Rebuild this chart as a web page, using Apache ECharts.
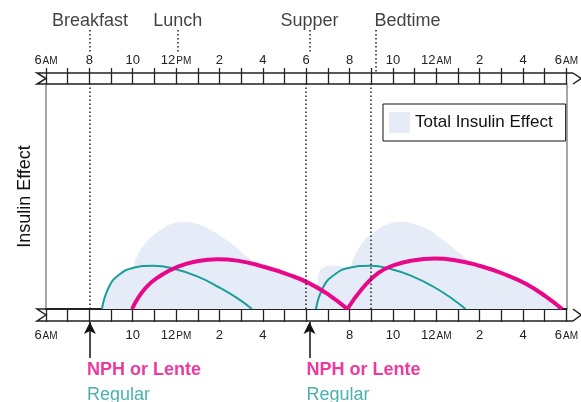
<!DOCTYPE html>
<html>
<head>
<meta charset="utf-8">
<script src="https://cdn.jsdelivr.net/npm/echarts@6/dist/echarts.min.js"></script>
<style>html,body{margin:0;padding:0;background:#fff}#chart{width:581px;height:402px}</style>
</head>
<body>
<div id="chart"></div>
<script>
// x values are hours after 6AM (0..24), y values are relative insulin effect
const topTickLabels = ['6AM', '8', '10', '12PM', '2', '4', '6', '8', '10', '12AM', '2', '4', '6AM'];
const bottomTickLabels = ['6AM', '', '10', '12PM', '2', '4', '', '8', '10', '12AM', '2', '4', '6AM'];
const mealNames = ['Breakfast', 'Lunch', 'Supper', 'Bedtime'];
const mealHours = [2, 6, 12, 15];
const dottedHours = [2, 12, 15];
const injectionHours = [2, 12];

const regularMorning = [[2.58, 0], [2.91, 10], [3.36, 15.1], [3.97, 18.1], [4.95, 19.2], [5.94, 17.8], [7.0, 14.4], [7.91, 10.0], [8.82, 4.8], [9.5, 0]];
const regularEvening = [[12.45, 0], [12.8, 10], [13.3, 15.2], [13.95, 18.2], [14.95, 19.2], [15.9, 17.8], [16.95, 14.3], [17.85, 10.0], [18.7, 4.8], [19.35, 0]];
const nphMorning = [[3.97, 0], [4.58, 9.2], [5.33, 15.1], [6.09, 18.8], [6.85, 21.0], [7.91, 22.1], [8.82, 21.5], [10.03, 18.8], [11.24, 15.1], [12.15, 11.4], [13.06, 6.2], [13.9, 0]];
const nphEvening = [[13.9, 0], [14.58, 9.0], [15.33, 16.1], [16.09, 19.6], [16.85, 21.5], [17.91, 22.4], [18.8, 21.8], [20.03, 19.1], [21.24, 15.1], [22.15, 11.1], [23.06, 5.5], [23.8, 0]];
const totalEffect = [[2.58, 0], [2.91, 10], [3.36, 15.1], [3.97, 18.3], [4.12, 21.8], [4.58, 29.2], [5.18, 34.4], [5.79, 37.8], [6.39, 38.7], [7.0, 37.8], [7.6, 35.1], [8.21, 31.4], [8.82, 27.0], [9.27, 23.2], [10.03, 18.8], [11.24, 15.1], [12.15, 11.4], [12.45, 9.8], [12.6, 16.6], [12.76, 18.1], [13.06, 19.2], [13.5, 19.2], [13.8, 18.1], [14.0, 18.0], [14.12, 21], [14.58, 29.2], [15.18, 34.4], [15.79, 37.8], [16.39, 38.7], [17.0, 37.8], [17.6, 35.4], [18.2, 31.4], [18.8, 27], [19.3, 23], [20.03, 19.1], [21.24, 15.1], [22.15, 11.1], [23.06, 5.5], [23.8, 0], [24, 0]];

const PINK = '#e8088a';
const TEAL = '#1b9e9a';
const FILL = '#e6ecf7';
const INK = '#222';

// plot box
const X0 = 46, X1 = 573, Y0 = 84, Y1 = 309;

function tickFormatter(labels) {
  return function (v) {
    if (v % 2) return '';
    const t = labels[v / 2] || '';
    const m = t.match(/^(\d+)(AM|PM)?$/);
    if (!m) return '';
    return m[2] ? '{n|' + m[1] + '}{s|' + m[2] + '}' : '{n|' + m[1] + '}';
  };
}
const tickRich = {
  n: { fontSize: 13, color: INK, fontFamily: 'Liberation Sans' },
  s: { fontSize: 10, color: INK, fontFamily: 'Liberation Sans', padding: [2, 0, 0, 1] }
};

// outer edge of each time ribbon, notched at the left and pointed at the right
function ribbon(y1, y2, outer) {
  const ym = (y1 + y2) / 2;
  const st = { stroke: INK, lineWidth: 1.5, fill: null };
  return [
    { type: 'line', shape: { x1: X0, y1: outer, x2: X1, y2: outer }, style: st },
    { type: 'polyline', shape: { points: [[X0, y1], [X0 - 9, y1], [X0, ym], [X0 - 9, y2], [X0, y2]] }, style: st },
    { type: 'polyline', shape: { points: [[X1, y1], [X1 + 8, ym], [X1, y2]] }, style: st }
  ];
}

const hourAxis = { type: 'value', min: 0, max: 24, interval: 1 };
const hidden = { show: false };

const chart = echarts.init(document.getElementById('chart'));
chart.setOption({
  animation: false,
  textStyle: { fontFamily: 'Liberation Sans' },
  grid: [
    { left: X0, right: 581 - X1, top: Y0, height: Y1 - Y0 },
    { left: X0, right: 581 - X1, top: 30, height: 43 },
    { left: X0, right: 581 - X1, top: 322, height: 36 }
  ],
  legend: {
    data: ['Total Insulin Effect'],
    left: 383, top: 104,
    icon: 'rect', itemWidth: 21, itemHeight: 21,
    padding: [8, 13, 8, 6],
    borderColor: '#111', borderWidth: 1, backgroundColor: '#fff',
    textStyle: { fontSize: 17, color: '#111' },
    selectedMode: false
  },
  xAxis: [
    Object.assign({ gridIndex: 0, position: 'bottom' }, hourAxis, {
      axisLine: { onZero: false, lineStyle: { color: INK, width: 2 } },
      axisTick: { length: 13, lineStyle: { color: INK, width: 1.3 } },
      axisLabel: { interval: 0, margin: 20, formatter: tickFormatter(bottomTickLabels), rich: tickRich },
      splitLine: hidden
    }),
    Object.assign({ gridIndex: 0, position: 'top' }, hourAxis, {
      axisLine: { onZero: false, lineStyle: { color: INK, width: 1.5 } },
      axisTick: { length: 16, lineStyle: { color: INK, width: 1.3 } },
      axisLabel: { interval: 0, margin: 17, formatter: tickFormatter(topTickLabels), rich: tickRich },
      splitLine: hidden
    }),
    Object.assign({ gridIndex: 1, show: false }, hourAxis),
    Object.assign({ gridIndex: 2, show: false }, hourAxis)
  ],
  yAxis: [
    {
      gridIndex: 0, type: 'value', min: 0, max: 100,
      name: 'Insulin Effect', nameLocation: 'middle', nameGap: 12, nameRotate: 90,
      nameTextStyle: { fontSize: 18, color: '#111' },
      axisLine: { show: true, onZero: false, lineStyle: { color: '#888', width: 1.5 } },
      axisTick: hidden, axisLabel: hidden, splitLine: hidden
    },
    {
      gridIndex: 0, type: 'value', min: 0, max: 100, position: 'right',
      axisLine: { show: true, onZero: false, lineStyle: { color: '#888', width: 1.5 } },
      axisTick: hidden, axisLabel: hidden, splitLine: hidden
    },
    { gridIndex: 1, type: 'value', min: 0, max: 1, show: false },
    { gridIndex: 2, type: 'value', min: 0, max: 1, show: false }
  ],
  graphic: ribbon(73, Y0, 73).concat(ribbon(Y1, 321, 321)),
  series: [
    {
      name: 'Total Insulin Effect', type: 'line', xAxisIndex: 0, yAxisIndex: 0,
      data: totalEffect, smooth: 0.5, symbol: 'none',
      itemStyle: { color: FILL }, lineStyle: { width: 0 },
      areaStyle: { color: FILL, opacity: 1 }, z: 1,
      markLine: {
        silent: true, symbol: 'none', label: hidden,
        lineStyle: { color: INK, type: [1.5, 2.5], width: 1.5 },
        data: dottedHours.map(h => ({ xAxis: h }))
      }
    },
    { name: 'Regular AM', type: 'line', data: regularMorning, smooth: 0.5, symbol: 'none', lineStyle: { color: TEAL, width: 2 }, z: 3 },
    { name: 'Regular PM', type: 'line', data: regularEvening, smooth: 0.5, symbol: 'none', lineStyle: { color: TEAL, width: 2 }, z: 3 },
    { name: 'NPH AM', type: 'line', data: nphMorning, smooth: 0.5, symbol: 'none', lineStyle: { color: PINK, width: 4 }, z: 4 },
    { name: 'NPH PM', type: 'line', data: nphEvening, smooth: 0.5, symbol: 'none', lineStyle: { color: PINK, width: 4 }, z: 4 },
    {
      name: 'meals', type: 'scatter', xAxisIndex: 2, yAxisIndex: 2, symbolSize: 0,
      data: mealNames.map((n, i) => ({
        name: n, value: [mealHours[i], 1],
        label: n === 'Bedtime' ? { align: 'left', offset: [-1, 0] } : {}
      })),
      label: { show: true, position: 'top', distance: 0, formatter: '{b}', fontSize: 18, color: '#111' },
      markLine: {
        silent: true, symbol: 'none', label: hidden,
        lineStyle: { color: INK, type: [1.5, 2.5], width: 1.5 },
        data: mealNames.map((n, i) => [
          { coord: [mealHours[i], 1] },
          { coord: [mealHours[i], n === 'Bedtime' ? 0 : 0.5] }
        ])
      }
    },
    {
      name: 'injections', type: 'scatter', xAxisIndex: 3, yAxisIndex: 3, symbolSize: 0,
      data: injectionHours.map(h => [h, 0]),
      label: {
        show: true, position: 'bottom', distance: 0, align: 'left', offset: [-3, 0],
        formatter: '{a|NPH or Lente}\n{b|Regular}',
        rich: {
          a: { fontSize: 18, fontWeight: 'bold', color: PINK, lineHeight: 25 },
          b: { fontSize: 18, color: TEAL, lineHeight: 25 }
        }
      },
      markLine: {
        silent: true, symbol: ['none', 'arrow'], symbolSize: [9, 12], label: hidden,
        lineStyle: { color: '#111', type: 'solid', width: 1.5 },
        data: injectionHours.map(h => [{ coord: [h, 0] }, { coord: [h, 1] }])
      }
    }
  ]
});
</script>
</body>
</html>
